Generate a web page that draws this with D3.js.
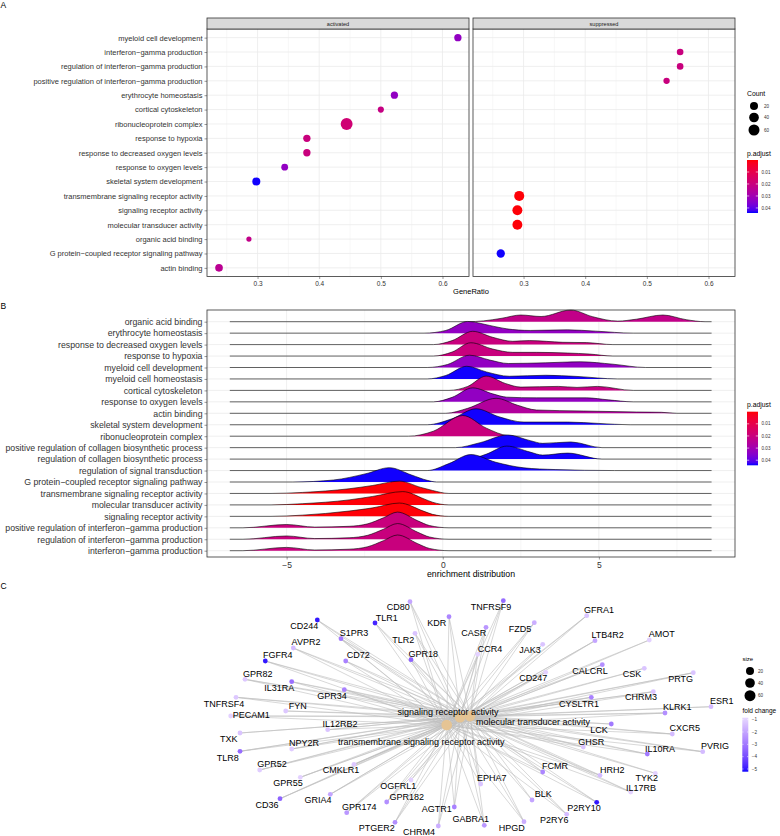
<!DOCTYPE html>
<html><head><meta charset="utf-8">
<script src="https://cdn.jsdelivr.net/npm/d3@7"></script>
<style>body{margin:0;background:#fff}svg{font-family:"Liberation Sans",Arial,Helvetica,sans-serif}</style>
</head><body>
<svg id="chart" width="780" height="836"></svg>
<script>
// ================= DATA =================
// Panel A (dot plot)
const termsA = ["myeloid cell development","interferon−gamma production","regulation of interferon−gamma production","positive regulation of interferon−gamma production","erythrocyte homeostasis","cortical cytoskeleton","ribonucleoprotein complex","response to hypoxia","response to decreased oxygen levels","response to oxygen levels","skeletal system development","transmembrane signaling receptor activity","signaling receptor activity","molecular transducer activity","organic acid binding","G protein−coupled receptor signaling pathway","actin binding"];
const facetsA = ["activated","suppressed"];
const dotTerm = ["myeloid cell development","erythrocyte homeostasis","cortical cytoskeleton","ribonucleoprotein complex","response to hypoxia","response to decreased oxygen levels","response to oxygen levels","skeletal system development","organic acid binding","actin binding","interferon−gamma production","regulation of interferon−gamma production","positive regulation of interferon−gamma production","transmembrane signaling receptor activity","signaling receptor activity","molecular transducer activity","G protein−coupled receptor signaling pathway"];
const dotFacet = ["activated","activated","activated","activated","activated","activated","activated","activated","activated","activated","suppressed","suppressed","suppressed","suppressed","suppressed","suppressed","suppressed"];
const dotRatio = [0.625,0.522,0.500,0.4445,0.380,0.380,0.344,0.298,0.286,0.2375,0.554,0.554,0.532,0.293,0.290,0.290,0.263];
const dotCount = [14,13,6,75,14,14,10,20,2,17,9,9,7,45,43,43,23];
const dotP = [0.033,0.033,0.021,0.018,0.02,0.02,0.033,0.044,0.022,0.024,0.02,0.02,0.02,0.0005,0.0005,0.0005,0.044];
const ticksA = [0.3,0.4,0.5,0.6];
const minorA = [0.25,0.35,0.45,0.55];
const sizeBreaks = [20,40,60];
const pBreaks = [0.01,0.02,0.03,0.04];

// Panel B (ridge plot)
const termsB = ["organic acid binding","erythrocyte homeostasis","response to decreased oxygen levels","response to hypoxia","myeloid cell development","myeloid cell homeostasis","cortical cytoskeleton","response to oxygen levels","actin binding","skeletal system development","ribonucleoprotein complex","positive regulation of collagen biosynthetic process","regulation of collagen biosynthetic process","regulation of signal transduction","G protein−coupled receptor signaling pathway","transmembrane signaling receptor activity","molecular transducer activity","signaling receptor activity","positive regulation of interferon−gamma production","regulation of interferon−gamma production","interferon−gamma production"];
const ridgeP = [0.022,0.033,0.02,0.02,0.033,0.044,0.021,0.033,0.026,0.044,0.02,0.044,0.044,0.044,0.044,0.0005,0.0005,0.0005,0.02,0.02,0.02];
// density profiles: [enrichment value, density]
const ridgeProfiles = [
 [[0.8,0],[1.3,0.08],[1.9,0.35],[2.5,0.67],[3.15,0.52],[4.1,1.17],[4.8,0.5],[5.6,0.06],[6.2,0.25],[7.05,0.67],[7.8,0.2],[8.4,0]],
 [[-0.6,0],[0.1,0.27],[0.8,1.17],[1.5,0.77],[2.05,0.43],[2.8,0.27],[4.0,0.33],[4.9,0.2],[6.1,0]],
 [[-0.3,0],[0.3,0.4],[0.96,1.33],[1.6,0.73],[2.24,0.33],[2.78,0.4],[3.85,0.23],[4.6,0.2],[5.45,0]],
 [[-0.3,0],[0.3,0.4],[0.9,1.33],[1.6,0.7],[2.24,0.37],[3.0,0.37],[4.0,0.3],[4.7,0.2],[5.45,0]],
 [[-0.5,0],[0.15,0.3],[0.86,1.23],[1.5,0.75],[2.1,0.4],[3.3,0.47],[4.4,0.57],[5.45,0.33],[6.5,0]],
 [[-0.5,0],[0.1,0.35],[0.77,1.27],[1.4,0.7],[2.13,0.27],[3.3,0.37],[4.3,0.25],[5.6,0]],
 [[0.2,0],[0.8,0.4],[1.39,1.43],[2.0,0.7],[2.5,0.33],[3.7,0.4],[4.3,0.3],[4.95,0.4],[6.1,0]],
 [[-0.3,0],[0.3,0.45],[0.96,1.4],[1.6,0.8],[2.05,0.47],[3.0,0.4],[4.6,0.4],[5.3,0.2],[6.1,0]],
 [[0.1,0],[0.8,0.5],[1.71,1.5],[2.4,0.8],[3.0,0.33],[4.5,0.23],[6.2,0.13],[7.0,0.1],[7.5,0]],
 [[-0.5,0],[0.3,0.6],[1.07,1.6],[1.8,0.8],[2.6,0.27],[4.0,0.27],[5.0,0.13],[6.0,0]],
 [[-1.1,0],[-0.3,0.5],[0.64,2.07],[1.4,0.8],[2.1,0.05],[2.5,0]],
 [[0.4,0],[1.2,0.5],[2.08,1.27],[2.8,0.7],[3.2,0.43],[4.1,0.57],[5.1,0]],
 [[0.8,0],[1.4,0.5],[2.05,1.3],[2.8,0.7],[3.2,0.4],[4.0,0.6],[5.1,0]],
 [[-0.5,0],[0.2,0.7],[0.9,1.6],[1.7,0.83],[2.6,0.27],[3.6,0.1],[5.5,0]],
 [[-4.8,0],[-3.5,0.2],[-2.46,0.83],[-1.71,1.43],[-1.0,0.7],[-0.5,0.17],[-0.2,0]],
 [[-5.5,0],[-4.5,0.1],[-3.0,0.47],[-2.24,0.8],[-1.39,1.23],[-0.7,0.6],[-0.33,0.3],[0.2,0]],
 [[-5.5,0],[-4.5,0.12],[-3.0,0.5],[-2.24,0.85],[-1.28,1.33],[-0.6,0.6],[-0.33,0.27],[0.2,0]],
 [[-5.5,0],[-4.5,0.12],[-3.0,0.53],[-2.24,0.85],[-1.39,1.33],[-0.6,0.5],[-0.33,0.2],[0.2,0]],
 [[-6.4,0],[-5.0,0.33],[-4.1,0.07],[-3.0,0.15],[-2.4,0.4],[-1.9,1.0],[-1.45,1.57],[-0.8,0.7],[-0.43,0.23],[0.2,0]],
 [[-6.4,0],[-5.0,0.33],[-4.1,0.07],[-3.0,0.15],[-2.4,0.4],[-1.9,1.0],[-1.45,1.57],[-0.8,0.7],[-0.43,0.23],[0.2,0]],
 [[-6.4,0],[-5.0,0.33],[-4.1,0.07],[-3.0,0.15],[-2.4,0.4],[-1.9,1.0],[-1.45,1.57],[-0.8,0.7],[-0.43,0.23],[0.2,0]]
];
const ridgeRange = [-6.82, 8.61];
const ticksB = [-5,0,5];
const minorB = [-7.5,-2.5,2.5,7.5];

// Panel C (gene-concept network), layout coordinates
const catNames = ["transmembrane signaling receptor activity","signaling receptor activity","molecular transducer activity"];
const catCount = [55,60,58];
const catX = [-13.3,0,10];
const catY = [-9,-1,0];
const catLabX = [-25.5,-12,63];
const catLabY = [-17.3,5.3,-6.3];
const genes = ["CD244","TLR1","S1PR3","AVPR2","TLR2","CD72","FGFR4","GPR82","IL31RA","GPR34","TNFRSF4","FYN","PECAM1","IL12RB2","TXK","NPY2R","TLR8","GPR52","CMKLR1","GPR55","CD36","GRIA4","GPR174","PTGER2","OGFRL1","GPR182","CHRM4","AGTR1","GABRA1","EPHA7","HPGD","CD80","TNFRSF9","KDR","CASR","FZD5","GFRA1","LTB4R2","AMOT","JAK3","CCR4","GPR18","CALCRL","CD247","CSK","PRTG","CHRM3","CYSLTR1","ESR1","KLRK1","LCK","CXCR5","GHSR","IL10RA","PVRIG","FCMR","HRH2","TYK2","IL17RB","BLK","P2RY10","P2RY6"];
const geneFC = [-5.0,-4.8,-3.0,-1.5,-1.3,-2.8,-5.0,-1.2,-3.2,-2.8,-1.2,-1.2,-1.0,-1.3,-1.3,-1.1,-3.3,-1.1,-1.2,-1.0,-3.5,-2.0,-2.3,-2.5,-1.0,-2.5,-1.8,-2.8,-2.3,-1.3,-1.8,-2.0,-3.3,-2.7,-2.3,-1.8,-1.3,-2.0,-1.0,-1.3,-1.0,-3.5,-2.5,-1.0,-1.3,-1.3,-1.3,-2.8,-1.5,-2.5,-3.0,-1.5,-1.3,-3.0,-1.5,-2.7,-1.5,-1.0,-1.0,-2.0,-5.0,-1.5];
const geneX = [-142.7,-85,-119,-166.7,-45,-114.3,-194.7,-215,-168.3,-115.7,-224,-174.3,-229.3,-132.3,-220,-168.3,-220,-200.3,-106,-159.7,-180,-129.7,-113.3,-65,-49,-73.3,-21.7,-5.7,24.3,20.7,64,-50,43.3,-11,26,74.3,126.7,135,189.3,82.7,17.7,-49,142.3,85.7,184.3,233.3,193.3,131.3,251,205,151.3,212.3,123.3,187.3,242.7,82.7,140,195.3,170.7,72,136.7,106.7];
const geneY = [96,93,77.3,68,82.7,55,55,36.7,34.3,26.3,18.7,5,0,-13.7,-17,-33,-35.3,-54,-48.3,-61.3,-82.7,-78.3,-96.7,-106.3,-64,-86,-110,-91,-109.3,-68,-105.7,114.3,115.3,99.3,88.7,93.3,100.3,75.3,76,71.7,61.7,56.3,51.3,43.7,47.7,43.3,24.3,18.7,9.3,3,-8,-18,-31,-38,-35.7,-56,-59.3,-57.3,-76,-84,-86.3,-98.3];
const labX = [-155.7,-73.3,-106,-154,-56.7,-101.7,-182.3,-202.3,-180.7,-128,-236,-162.3,-208.7,-120,-231.3,-156,-232.3,-188,-119,-172,-193,-142,-100.7,-83.3,-61.7,-53.3,-41,-23.3,10.7,31.7,51.7,-61.7,31,-23.3,13.7,60,139,147.7,201.7,70,30,-36.7,130,73.3,172,220.7,181,119,261.7,217.3,139,224.7,131.3,200,255,95,152.3,186.7,181,83.3,124,94.3];
const labY = [90,97.7,83,73.7,76,60.7,60.7,42.3,28.3,20.3,12,10.3,1.3,-8,-23.3,-27.3,-41.7,-48,-54.3,-67.3,-89.3,-84.3,-91,-111.7,-70,-81.3,-115.7,-92.7,-103.3,-62,-111.7,108.7,109.3,93.3,83,86.7,106,81,81.7,65.7,67,62,45,37.7,41.7,37.3,18.7,12.3,14.7,9,-14,-12.3,-25.7,-32.7,-30.3,-50.3,-54,-62,-72.3,-78.3,-92.3,-104.3];
const notTransmembrane = ["FYN","TXK","JAK3","CSK","LCK","BLK","TYK2","ESR1","OGFRL1","AMOT"];
const fcBreaks = [-1,-2,-3,-4,-5];

// ================= DRAW =================
const svg = d3.select("#chart");
const ink = "#333333";
const gridCol = "#EBEBEB";
const colP = d3.scaleSequential(d3.interpolateLab("#FF0000","#0000FF")).domain([0, 0.0442]);
const colFC = d3.scaleSequential(d3.interpolateLab("#0000FF","#FFFFFF")).domain([-5.25, 0]);
const rSize = c => d3.scaleLinear().domain([Math.sqrt(20), Math.sqrt(60)]).range([4, 5.5])(Math.sqrt(c));

function styleAxis(g, fs){
  g.select(".domain").remove();
  g.selectAll(".tick line").attr("stroke", ink).attr("stroke-width", 0.5);
  g.selectAll(".tick text").attr("fill", "#333").style("font-size", fs + "px").attr("font-family", null);
}
function panelLabel(t, x, y){
  svg.append("text").attr("x", x).attr("y", y).text(t).style("font-size","8.5px").attr("fill","#000");
}
function colorbar(id, x, y, w, h, scale, domainTop, domainBot, breaks, fmt){
  const grad = svg.append("defs").append("linearGradient").attr("id", id).attr("x1",0).attr("x2",0).attr("y1",0).attr("y2",1);
  d3.range(0, 1.0001, 0.05).forEach(t => {
    grad.append("stop").attr("offset", t).attr("stop-color", scale(domainTop + (domainBot - domainTop) * t));
  });
  svg.append("rect").attr("x", x).attr("y", y).attr("width", w).attr("height", h).attr("fill", `url(#${id})`);
  const yb = d3.scaleLinear().domain([domainTop, domainBot]).range([y, y + h]);
  breaks.forEach(b => {
    svg.append("line").attr("x1", x).attr("x2", x + w*0.2).attr("y1", yb(b)).attr("y2", yb(b)).attr("stroke","#fff").attr("stroke-width",0.6);
    svg.append("line").attr("x1", x + w*0.8).attr("x2", x + w).attr("y1", yb(b)).attr("y2", yb(b)).attr("stroke","#fff").attr("stroke-width",0.6);
    svg.append("text").attr("x", x + w + 3.5).attr("y", yb(b)).attr("dy","0.35em").text(fmt(b)).style("font-size","4.6px").attr("fill","#333");
  });
}

// ---------- Panel A ----------
panelLabel("A", 0.5, 8);
const xAr = {activated:[207,469], suppressed:[473,735]};
const yA = d3.scalePoint().domain(termsA).range([29, 276.5]).padding(0.6);
facetsA.forEach((f, fi) => {
  const xA = d3.scaleLinear().domain([0.218, 0.643]).range(xAr[f]);
  const g = svg.append("g");
  g.append("rect").attr("x", xAr[f][0]).attr("y", 29).attr("width", xAr[f][1]-xAr[f][0]).attr("height", 247.5).attr("fill","#fff");
  minorA.forEach(v => g.append("line").attr("x1", xA(v)).attr("x2", xA(v)).attr("y1", 29).attr("y2", 276.5).attr("stroke", gridCol).attr("stroke-width", 0.4));
  ticksA.forEach(v => g.append("line").attr("x1", xA(v)).attr("x2", xA(v)).attr("y1", 29).attr("y2", 276.5).attr("stroke", gridCol).attr("stroke-width", 0.8));
  termsA.forEach(t => g.append("line").attr("x1", xAr[f][0]).attr("x2", xAr[f][1]).attr("y1", yA(t)).attr("y2", yA(t)).attr("stroke", gridCol).attr("stroke-width", 0.8));
  const idx = d3.range(dotTerm.length).filter(i => dotFacet[i] === f);
  g.selectAll("circle.dot").data(idx).join("circle").attr("class","dot")
    .attr("cx", i => xA(dotRatio[i])).attr("cy", i => yA(dotTerm[i]))
    .attr("r", i => rSize(dotCount[i])).attr("fill", i => colP(dotP[i]));
  g.append("rect").attr("x", xAr[f][0]).attr("y", 29).attr("width", xAr[f][1]-xAr[f][0]).attr("height", 247.5).attr("fill","none").attr("stroke", ink).attr("stroke-width", 0.8);
  // strip
  g.append("rect").attr("x", xAr[f][0]).attr("y", 18).attr("width", xAr[f][1]-xAr[f][0]).attr("height", 11).attr("fill","#D9D9D9").attr("stroke", ink).attr("stroke-width", 0.8);
  g.append("text").attr("x", (xAr[f][0]+xAr[f][1])/2).attr("y", 23.7).attr("dy","0.35em").attr("text-anchor","middle").text(f).style("font-size","5.6px").attr("fill","#1A1A1A");
  const ax = g.append("g").attr("transform","translate(0,276.5)").call(d3.axisBottom(xA).tickValues(ticksA).tickSize(2.5).tickPadding(2).tickFormat(d3.format(".1f")));
  styleAxis(ax, 6.5);
  if (fi === 0) {
    const ay = g.append("g").attr("transform", `translate(${xAr[f][0]},0)`).call(d3.axisLeft(yA).tickSize(2.5).tickPadding(2));
    styleAxis(ay, 7.5);
  }
});
svg.append("text").attr("x", 471).attr("y", 291).attr("dy","0.35em").attr("text-anchor","middle").text("GeneRatio").style("font-size","7.5px").attr("fill","#000");
// legends A
svg.append("text").attr("x", 747).attr("y", 94).attr("dy","0.35em").text("Count").style("font-size","6.8px");
const legSizeY = [106, 117.5, 130];
sizeBreaks.forEach((s, i) => {
  svg.append("circle").attr("cx", 754).attr("cy", legSizeY[i]).attr("r", rSize(s)).attr("fill","#000");
  svg.append("text").attr("x", 764).attr("y", legSizeY[i]).attr("dy","0.35em").text(s).style("font-size","4.6px").attr("fill","#333");
});
svg.append("text").attr("x", 747).attr("y", 154).attr("dy","0.35em").text("p.adjust").style("font-size","6.8px");
colorbar("gA", 747, 160, 11, 53, colP, 0, 0.0442, pBreaks, d3.format(".2f"));

// ---------- Panel B ----------
panelLabel("B", 0.5, 309);
const xB = d3.scaleLinear().domain([-7.55, 9.36]).range([207, 735]);
const yB = d3.scalePoint().domain(termsB).range([321.7, 550.7]);
const hB = d3.scaleLinear().domain([0, 1]).range([0, 10]);
const gB = svg.append("g");
gB.append("rect").attr("x",207).attr("y",310).attr("width",528).attr("height",247).attr("fill","#fff");
minorB.forEach(v => gB.append("line").attr("x1", xB(v)).attr("x2", xB(v)).attr("y1",310).attr("y2",557).attr("stroke",gridCol).attr("stroke-width",0.4));
ticksB.forEach(v => gB.append("line").attr("x1", xB(v)).attr("x2", xB(v)).attr("y1",310).attr("y2",557).attr("stroke",gridCol).attr("stroke-width",0.8));
termsB.forEach(t => gB.append("line").attr("x1",207).attr("x2",735).attr("y1",yB(t)).attr("y2",yB(t)).attr("stroke",gridCol).attr("stroke-width",0.8));
termsB.forEach((t, i) => {
  const pts = [[ridgeRange[0],0], ...ridgeProfiles[i], [ridgeRange[1],0]];
  const base = yB(t);
  const area = d3.area().x(d => xB(d[0])).y0(base).y1(d => base - hB(d[1])).curve(d3.curveMonotoneX);
  const line = d3.line().x(d => xB(d[0])).y(d => base - hB(d[1])).curve(d3.curveMonotoneX);
  gB.append("path").attr("d", area(pts)).attr("fill", colP(ridgeP[i]));
  gB.append("path").attr("d", line(pts)).attr("fill","none").attr("stroke","#000").attr("stroke-width",0.6);
});
gB.append("rect").attr("x",207).attr("y",310).attr("width",528).attr("height",247).attr("fill","none").attr("stroke",ink).attr("stroke-width",0.8);
const axB = gB.append("g").attr("transform","translate(0,557)").call(d3.axisBottom(xB).tickValues(ticksB).tickSize(2.5).tickPadding(2));
styleAxis(axB, 8.5);
const ayB = gB.append("g").attr("transform","translate(207,0)").call(d3.axisLeft(yB).tickSize(2.5).tickPadding(2));
styleAxis(ayB, 8.75);
svg.append("text").attr("x", 471).attr("y", 574).attr("dy","0.35em").attr("text-anchor","middle").text("enrichment distribution").style("font-size","8.75px");
svg.append("text").attr("x", 747).attr("y", 405).attr("dy","0.35em").text("p.adjust").style("font-size","6.8px");
colorbar("gB", 747, 411.7, 11, 53.6, colP, 0, 0.0442, pBreaks, d3.format(".2f"));

// ---------- Panel C ----------
panelLabel("C", 0.5, 589);
const xC = d3.scaleLinear().domain([-260, 270]).range([200, 730]);
const yC = d3.scaleLinear().domain([125, -120]).range([591, 836]);
const gC = svg.append("g");
const edges = [];
genes.forEach((g, i) => {
  catNames.forEach((c, j) => {
    if (j === 0 && notTransmembrane.includes(g)) return;
    edges.push({g: i, c: j});
  });
});
gC.selectAll("line.edge").data(edges).join("line").attr("class","edge")
  .attr("x1", e => xC(geneX[e.g])).attr("y1", e => yC(geneY[e.g]))
  .attr("x2", e => xC(catX[e.c])).attr("y2", e => yC(catY[e.c]))
  .attr("stroke","#BEBEBE").attr("stroke-width",0.6);
gC.selectAll("circle.cat").data(catNames).join("circle").attr("class","cat")
  .attr("cx", (d,j) => xC(catX[j])).attr("cy", (d,j) => yC(catY[j])).attr("r", (d,j) => rSize(catCount[j])).attr("fill","#E5C494");
gC.selectAll("circle.gene").data(genes).join("circle").attr("class","gene")
  .attr("cx", (d,i) => xC(geneX[i])).attr("cy", (d,i) => yC(geneY[i])).attr("r", 2.4).attr("fill", (d,i) => colFC(geneFC[i]));
gC.selectAll("text.gl").data(genes).join("text").attr("class","gl")
  .attr("x", (d,i) => xC(labX[i])).attr("y", (d,i) => yC(labY[i])).attr("dy","0.35em").attr("text-anchor","middle")
  .text(d => d).style("font-size","9px").attr("fill","#000");
gC.selectAll("text.cl").data(catNames).join("text").attr("class","cl")
  .attr("x", (d,j) => xC(catX[j] + catLabX[j])).attr("y", (d,j) => yC(catY[j] + catLabY[j])).attr("dy","0.35em").attr("text-anchor","middle")
  .text(d => d).style("font-size","9px").attr("fill","#000");
// legends C
svg.append("text").attr("x", 742.5).attr("y", 659).attr("dy","0.35em").text("size").style("font-size","6px");
const legCY = [671, 683, 695.7];
sizeBreaks.forEach((s, i) => {
  svg.append("circle").attr("cx", 750).attr("cy", legCY[i]).attr("r", rSize(s)).attr("fill","#000");
  svg.append("text").attr("x", 758).attr("y", legCY[i]).attr("dy","0.35em").text(s).style("font-size","4.6px").attr("fill","#333");
});
svg.append("text").attr("x", 742.5).attr("y", 711).attr("dy","0.35em").text("fold change").style("font-size","6.5px");
colorbar("gC", 742.3, 717.7, 6, 54, colFC, -0.84, -5.22, fcBreaks, d3.format("d"));
</script>
</body></html>
